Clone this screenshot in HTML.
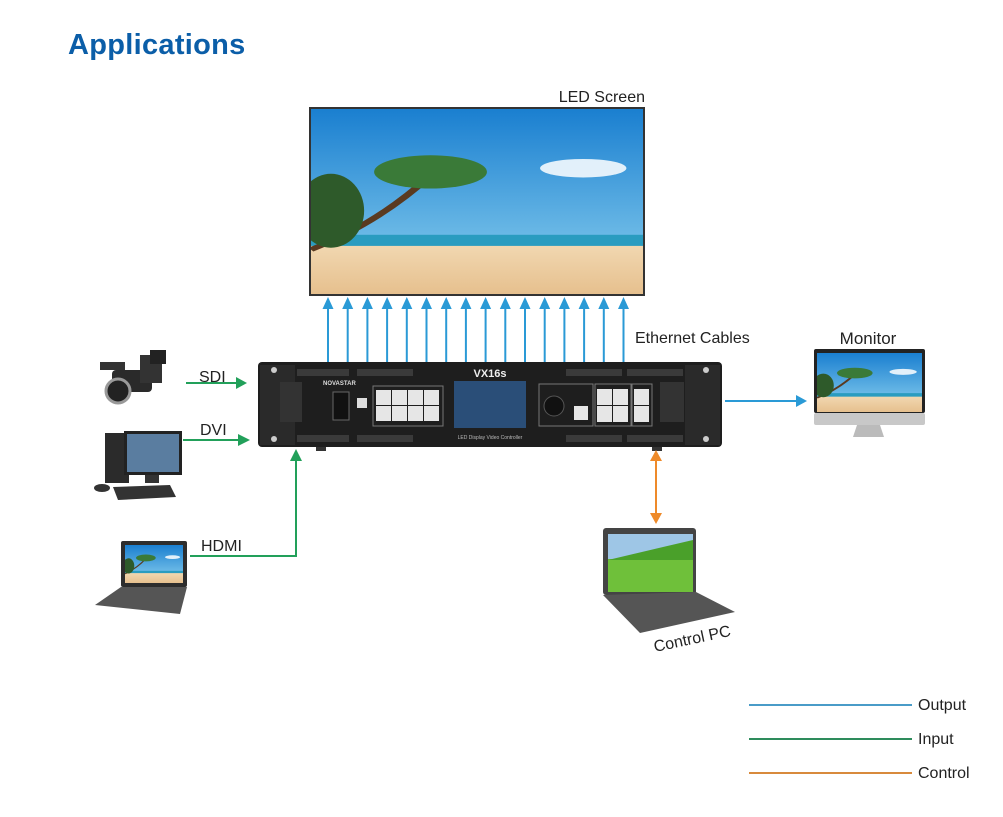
<!DOCTYPE html>
<html><head><meta charset="utf-8"><style>
html,body{margin:0;padding:0;background:#fff;}
svg{display:block;font-family:"Liberation Sans",sans-serif;}
</style></head><body>
<svg width="1003" height="817" viewBox="0 0 1003 817" xmlns="http://www.w3.org/2000/svg">
<defs>
<linearGradient id="sky" x1="0" y1="0" x2="0" y2="1"><stop offset="0" stop-color="#1a7fd0"/><stop offset="1" stop-color="#8fd3f0"/></linearGradient>
<linearGradient id="sand" x1="0" y1="0" x2="0" y2="1"><stop offset="0" stop-color="#f1d7b0"/><stop offset="1" stop-color="#e6c08e"/></linearGradient>
<g id="beach">
<rect x="0" y="0" width="100" height="100" fill="url(#sky)"/>
<rect x="0" y="68" width="100" height="8" fill="#2a9cc0"/>
<rect x="0" y="74" width="100" height="26" fill="url(#sand)"/>
<path d="M0 76 Q20 62 36 36" stroke="#5a3a20" stroke-width="2.5" fill="none"/>
<ellipse cx="36" cy="34" rx="17" ry="9" fill="#3a7a38"/>
<ellipse cx="6" cy="55" rx="10" ry="20" fill="#2e5a2a"/>
<ellipse cx="82" cy="32" rx="13" ry="5" fill="#fff" opacity=".85"/>
</g>
</defs>

<text x="68" y="54" font-size="29" font-weight="bold" fill="#0b5ea8" letter-spacing="0.3">Applications</text>

<text x="645" y="102" font-size="16" text-anchor="end" fill="#222">LED Screen</text>
<rect x="309" y="107" width="336" height="189" fill="#333"/>
<svg x="311" y="109" width="332" height="185" viewBox="0 0 100 100" preserveAspectRatio="none"><use href="#beach"/></svg>

<g stroke="#2a9ad6" stroke-width="2" fill="#2a9ad6">
<g id="arr">
<line x1="328" y1="362" x2="328" y2="303"/><path d="M322.5 309 L328 297 L333.5 309 z" stroke="none"/>
</g>
<use href="#arr" x="19.7"/><use href="#arr" x="39.4"/><use href="#arr" x="59.1"/><use href="#arr" x="78.8"/><use href="#arr" x="98.5"/><use href="#arr" x="118.2"/><use href="#arr" x="137.9"/><use href="#arr" x="157.6"/><use href="#arr" x="177.3"/><use href="#arr" x="197"/><use href="#arr" x="216.7"/><use href="#arr" x="236.4"/><use href="#arr" x="256.1"/><use href="#arr" x="275.8"/><use href="#arr" x="295.5"/>
</g>
<text x="635" y="343" font-size="16" fill="#222">Ethernet Cables</text>

<rect x="258" y="362" width="464" height="85" rx="4" fill="#1e1e1e"/>
<rect x="260" y="365" width="35" height="80" fill="#2a2a2a"/>
<rect x="685" y="365" width="35" height="80" fill="#2a2a2a"/>
<g fill="#3a3a3a"><rect x="297" y="369" width="52" height="7"/><rect x="357" y="369" width="56" height="7"/><rect x="566" y="369" width="56" height="7"/><rect x="627" y="369" width="56" height="7"/>
<rect x="297" y="435" width="52" height="7"/><rect x="357" y="435" width="56" height="7"/><rect x="566" y="435" width="56" height="7"/><rect x="627" y="435" width="56" height="7"/></g>
<g fill="#333"><rect x="280" y="382" width="22" height="40"/><rect x="660" y="382" width="24" height="40"/></g>
<text x="490" y="377" font-size="11" font-weight="bold" fill="#eee" text-anchor="middle">VX16s</text>
<text x="323" y="385" font-size="6" font-weight="bold" fill="#ddd">NOVASTAR</text>
<rect x="333" y="392" width="16" height="28" fill="#111" stroke="#666"/>
<rect x="357" y="398" width="10" height="10" fill="#ddd"/>
<rect x="373" y="386" width="70" height="40" fill="none" stroke="#777"/>
<g fill="#e6e6e6"><rect x="376" y="390" width="15" height="15"/><rect x="392" y="390" width="15" height="15"/><rect x="408" y="390" width="15" height="15"/><rect x="424" y="390" width="15" height="15"/>
<rect x="376" y="406" width="15" height="15"/><rect x="392" y="406" width="15" height="15"/><rect x="408" y="406" width="15" height="15"/><rect x="424" y="406" width="15" height="15"/></g>
<rect x="454" y="381" width="72" height="47" fill="#2a4e78"/>
<text x="490" y="439" font-size="5" fill="#bbb" text-anchor="middle">LED Display Video Controller</text>
<rect x="539" y="384" width="54" height="42" fill="none" stroke="#777"/>
<circle cx="554" cy="406" r="10" fill="#111" stroke="#555"/>
<rect x="574" y="406" width="14" height="14" fill="#e6e6e6"/>
<rect x="595" y="384" width="36" height="42" fill="none" stroke="#777"/>
<g fill="#e6e6e6"><rect x="597" y="389" width="15" height="16"/><rect x="613" y="389" width="15" height="16"/><rect x="597" y="406" width="15" height="16"/><rect x="613" y="406" width="15" height="16"/><rect x="634" y="389" width="15" height="16"/><rect x="634" y="406" width="15" height="16"/></g>
<rect x="632" y="384" width="20" height="42" fill="none" stroke="#777"/>
<g fill="#ccc"><circle cx="274" cy="370" r="3"/><circle cx="274" cy="439" r="3"/><circle cx="706" cy="370" r="3"/><circle cx="706" cy="439" r="3"/></g>
<rect x="316" y="447" width="10" height="4" fill="#333"/><rect x="652" y="447" width="10" height="4" fill="#333"/>

<g stroke="#22a05a" stroke-width="2" fill="none">
<line x1="186" y1="383" x2="238" y2="383"/><line x1="183" y1="440" x2="240" y2="440"/>
<polyline points="190,556 296,556 296,460"/>
</g>
<g fill="#22a05a"><path d="M236 377 L247 383 L236 389 z"/><path d="M238 434 L250 440 L238 446 z"/><path d="M290 461 L296 449 L302 461 z"/></g>
<g font-size="16" fill="#222"><text x="199" y="382">SDI</text><text x="200" y="435">DVI</text><text x="201" y="551">HDMI</text></g>

<g><rect x="112" y="370" width="40" height="22" rx="4" fill="#2a2a2a"/><circle cx="118" cy="391" r="12" fill="#222" stroke="#999" stroke-width="3"/><rect x="140" y="355" width="22" height="28" fill="#333"/><rect x="150" y="350" width="16" height="14" fill="#222"/><rect x="100" y="362" width="25" height="8" fill="#333"/></g>
<g><rect x="105" y="433" width="24" height="50" fill="#2b2b2b"/><rect x="124" y="431" width="58" height="44" fill="#222"/><rect x="127" y="434" width="52" height="38" fill="#5a7da0"/><rect x="145" y="475" width="14" height="8" fill="#333"/><path d="M113 487 L170 485 L176 497 L118 500 z" fill="#333"/><ellipse cx="102" cy="488" rx="8" ry="4" fill="#333"/></g>
<g><rect x="121" y="541" width="66" height="46" rx="2" fill="#2d2d2d"/><svg x="125" y="545" width="58" height="38" viewBox="0 0 100 100" preserveAspectRatio="none"><use href="#beach"/></svg><path d="M121 587 L187 587 L180 614 L95 605 z" fill="#555"/></g>

<line x1="725" y1="401" x2="798" y2="401" stroke="#2a9ad6" stroke-width="2"/>
<path d="M796 395 L807 401 L796 407 z" fill="#2a9ad6"/>
<text x="868" y="344" font-size="17" text-anchor="middle" fill="#222">Monitor</text>
<rect x="814" y="349" width="111" height="64" rx="2" fill="#222"/>
<svg x="817" y="353" width="105" height="59" viewBox="0 0 100 100" preserveAspectRatio="none"><use href="#beach"/></svg>
<rect x="814" y="413" width="111" height="12" rx="2" fill="#c8c8c8"/>
<path d="M857 425 L880 425 L884 437 L853 437 z" fill="#bbb"/>

<line x1="656" y1="460" x2="656" y2="514" stroke="#ee8a2a" stroke-width="2"/>
<path d="M650 461 L656 450 L662 461 z M650 513 L656 524 L662 513 z" fill="#ee8a2a"/>
<g><rect x="603" y="528" width="93" height="67" rx="3" fill="#444"/>
<rect x="608" y="534" width="85" height="58" fill="#6fc03a"/><rect x="608" y="534" width="85" height="25" fill="#9ec6e6"/><path d="M608 560 Q650 550 693 540 L693 560 z" fill="#4aa02a"/>
<path d="M603 595 L696 592 L735 612 L640 633 z" fill="#555"/></g>
<text x="655" y="652" font-size="16" fill="#222" transform="rotate(-12 655 652)">Control PC</text>

<line x1="749" y1="705" x2="912" y2="705" stroke="#4a9cc8" stroke-width="2"/>
<line x1="749" y1="739" x2="912" y2="739" stroke="#2e8c5c" stroke-width="2"/>
<line x1="749" y1="773" x2="912" y2="773" stroke="#d88a3c" stroke-width="2"/>
<g font-size="16" fill="#222"><text x="918" y="710">Output</text><text x="918" y="744">Input</text><text x="918" y="778">Control</text></g>
</svg>
</body></html>
